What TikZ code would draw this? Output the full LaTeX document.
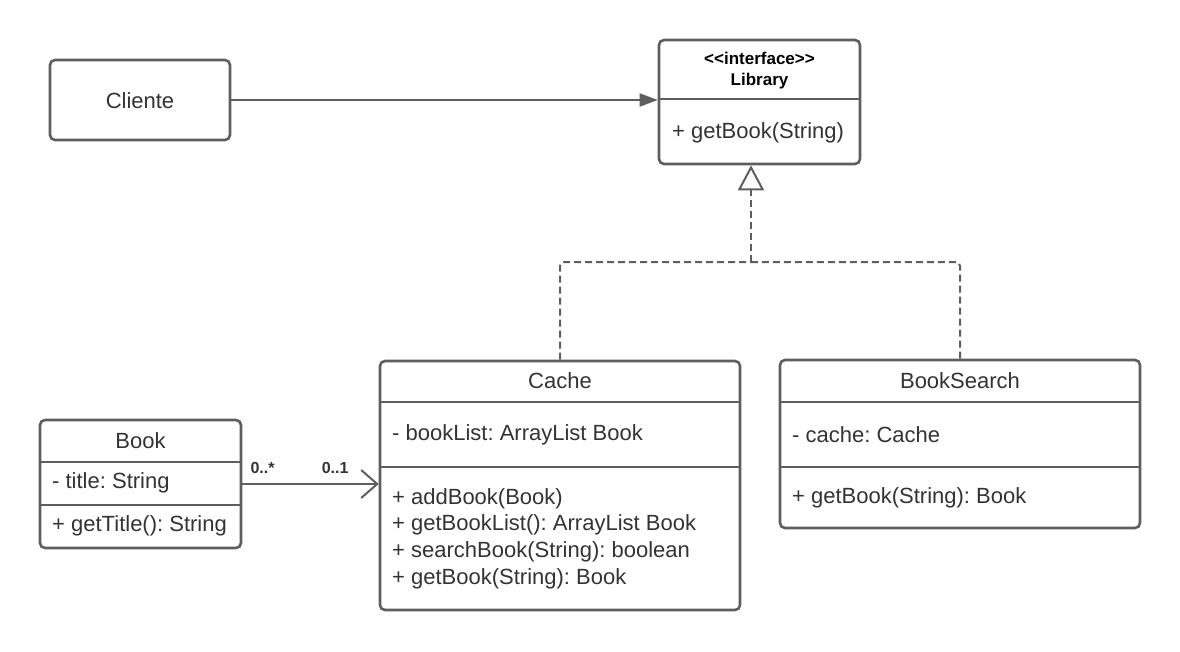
\documentclass[tikz,border=0pt]{standalone}
\usepackage{fontspec}
\setmainfont{Liberation Sans}
\usepackage{tikz}
\usetikzlibrary{positioning,arrows.meta}
\definecolor{linegray}{HTML}{5E5E5E}
\definecolor{textgray}{HTML}{333333}
\frenchspacing

\begin{document}
\begin{tikzpicture}[x=1pt,y=-1pt,
    classbox/.style={draw=linegray, line width=2.6pt, rounded corners=5pt, inner sep=0pt},
    divider/.style={draw=linegray, line width=2.6pt},
    member/.style={inner sep=0pt, text=textgray, align=left, font=\fontsize{22}{26.6}\selectfont},
    stereo/.style={inner sep=0pt, text=black, align=center, font=\bfseries\fontsize{17}{21}\selectfont},
    mult/.style={inner sep=0pt, text=textgray, font=\bfseries\fontsize{16}{19}\selectfont},
    assoc/.style={draw=linegray, line width=2pt},
    realize/.style={draw=linegray, line width=2pt, dash pattern=on 7pt off 4pt, rounded corners=4pt}]
  \useasboundingbox (0,0) rectangle (1180,651);
  % classes
  \node[classbox, minimum width=180pt, minimum height=80pt] (cliente) at (140,100) {};
  \node[member] (clienteT) at (140,100.5) {Cliente};

  \node[classbox, minimum width=201pt, minimum height=124pt] (library) at (759.5,102) {};
  \node[stereo] (libraryT) at (759.5,70.5) {<\kern0pt<interface>\kern0pt>\\Library};
  \draw[divider] (library.west |- 0,99) -- (library.east |- 0,99);
  \node[member, anchor=west] (libraryM) at (672,132.5) {+ getBook(String)};

  \node[classbox, minimum width=201pt, minimum height=128pt] (book) at (140.5,484) {};
  \node[member] (bookT) at (140.5,440.5) {Book};
  \draw[divider] (book.west |- 0,462) -- (book.east |- 0,462);
  \node[member, anchor=west] (bookA) at (52,482.5) {- title: String};
  \draw[divider] (book.west |- 0,505) -- (book.east |- 0,505);
  \node[member, anchor=west] (bookM) at (52,525.5) {+ getTitle(): String};

  \node[classbox, minimum width=360pt, minimum height=249pt] (cache) at (560,485.5) {};
  \node[member] (cacheT) at (560,380.5) {Cache};
  \draw[divider] (cache.west |- 0,402) -- (cache.east |- 0,402);
  \node[member, anchor=west] (cacheA) at (392,434.5) {- bookList: ArrayList Book};
  \draw[divider] (cache.west |- 0,467) -- (cache.east |- 0,467);
  \node[member, anchor=west] (cacheM) at (392,538.5) {+ addBook(Book)\\+ getBookList(): ArrayList Book\\+ searchBook(String): boolean\\+ getBook(String): Book};

  \node[classbox, minimum width=360pt, minimum height=168pt] (search) at (960,444) {};
  \node[member] (searchT) at (960,380.5) {BookSearch};
  \draw[divider] (search.west |- 0,402) -- (search.east |- 0,402);
  \node[member, anchor=west] (searchA) at (792,434.5) {- cache: Cache};
  \draw[divider] (search.west |- 0,467) -- (search.east |- 0,467);
  \node[member, anchor=west] (searchM) at (792,497.5) {+ getBook(String): Book};

  % connectors
  \draw[assoc, -{Triangle[length=18pt,width=13pt]}] (cliente.east) -- (cliente.east -| library.west);

  \coordinate (join) at (751,262);
  \draw[realize] (cache.north) |- (join);
  \draw[realize] (search.north) |- (join);
  \draw[assoc, dash pattern=on 7pt off 4pt, -{Triangle[open,length=25pt,width=26pt,line width=2pt]}] (join) -- (join |- library.south);

  \coordinate (assocEnd) at (book.east -| cache.west);
  \draw[assoc, -{Straight Barb[length=16pt,width=28pt,line width=2pt]}] (book.east) -- (assocEnd);
  \node[mult, above right=10pt and 8pt of book.east] (multBook) {0..*};
  \node[mult, above left=10pt and 30pt of assocEnd] (multCache) {0..1};
\end{tikzpicture}
\end{document}
